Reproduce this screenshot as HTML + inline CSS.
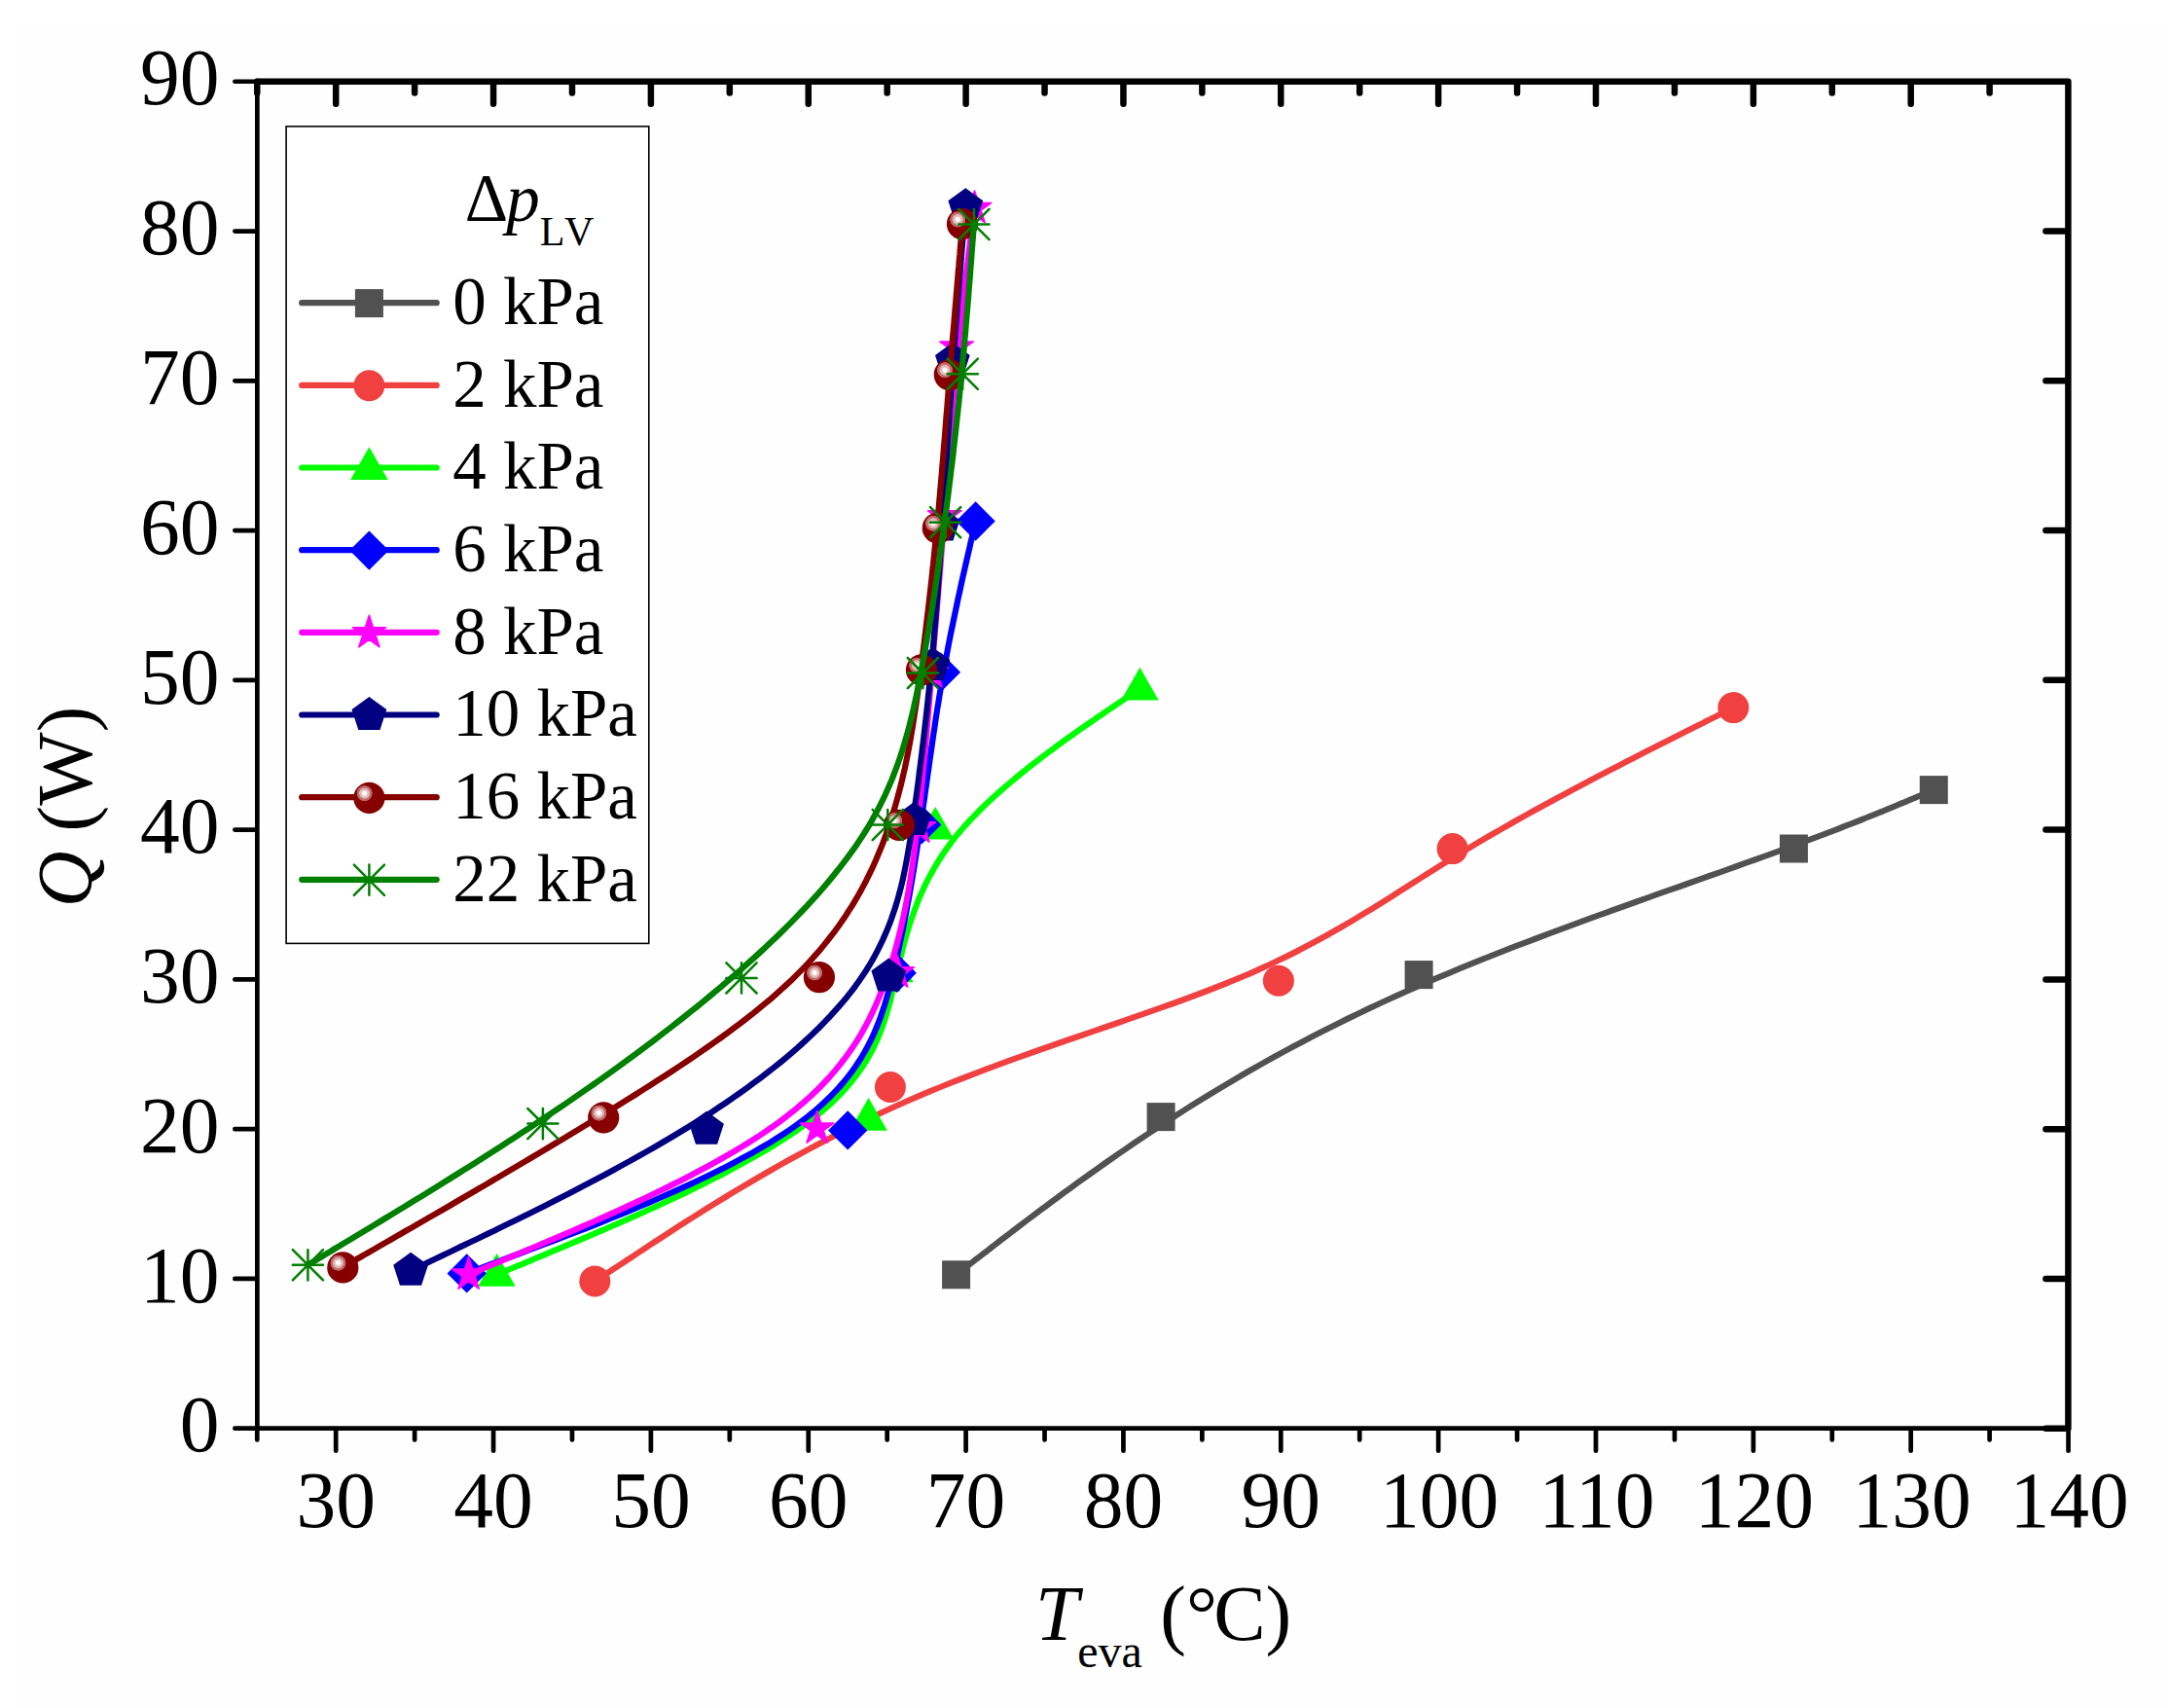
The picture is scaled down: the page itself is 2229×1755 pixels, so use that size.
<!DOCTYPE html>
<html lang="en"><head><meta charset="utf-8"><title>Q vs T_eva</title>
<style>html,body{margin:0;padding:0;background:#fff}svg{display:block}text{font-family:'Liberation Serif', 'DejaVu Serif', serif;fill:#000}</style></head><body>
<svg width="2229" height="1755" viewBox="0 0 2229 1755">
<defs><radialGradient id="hl" cx="0.5" cy="0.5" r="0.5"><stop offset="0" stop-color="#fff"/><stop offset="0.27" stop-color="#fff"/><stop offset="0.33" stop-color="#ecc9c9"/><stop offset="0.62" stop-color="#deaeae"/><stop offset="0.69" stop-color="#c07272"/><stop offset="0.94" stop-color="#b86262"/><stop offset="1" stop-color="#860000"/></radialGradient></defs>
<rect width="2229" height="1755" fill="#fff"/>
<rect x="16" y="24" width="2213" height="1731" fill="#fefefe"/>
<g id="series">
<path d="M982.6 1309.8 L982.6 1309.8 L982.6 1309.8 L982.6 1309.8 L982.6 1309.7 L982.7 1309.7 L982.8 1309.6 L983.0 1309.4 L983.2 1309.3 L983.5 1309.0 L983.9 1308.8 L984.3 1308.4 L984.8 1308.0 L985.4 1307.6 L986.1 1307.0 L987.0 1306.4 L987.9 1305.7 L989.0 1304.9 L990.1 1303.9 L991.5 1302.9 L993.0 1301.8 L994.6 1300.5 L996.4 1299.1 L998.4 1297.6 L1000.5 1295.9 L1002.9 1294.1 L1005.4 1292.2 L1008.1 1290.1 L1011.1 1287.8 L1014.3 1285.4 L1017.7 1282.7 L1021.3 1279.9 L1025.1 1277.0 L1029.2 1273.8 L1033.5 1270.6 L1038.0 1267.1 L1042.7 1263.5 L1047.6 1259.8 L1052.7 1255.9 L1058.0 1251.9 L1063.5 1247.8 L1069.1 1243.6 L1075.0 1239.2 L1080.9 1234.8 L1087.1 1230.2 L1093.4 1225.6 L1099.8 1220.9 L1106.4 1216.1 L1113.1 1211.3 L1120.0 1206.4 L1126.9 1201.4 L1134.0 1196.4 L1141.2 1191.4 L1148.5 1186.3 L1155.9 1181.2 L1163.4 1176.0 L1171.0 1170.9 L1178.7 1165.7 L1186.5 1160.6 L1194.3 1155.4 L1202.2 1150.3 L1210.2 1145.1 L1218.2 1140.0 L1226.3 1134.9 L1234.4 1129.9 L1242.6 1124.8 L1250.9 1119.8 L1259.3 1114.8 L1267.7 1109.8 L1276.3 1104.8 L1284.9 1099.8 L1293.6 1094.9 L1302.4 1089.9 L1311.2 1085.0 L1320.2 1080.1 L1329.2 1075.3 L1338.4 1070.4 L1347.7 1065.6 L1357.0 1060.8 L1366.5 1056.0 L1376.0 1051.2 L1385.7 1046.4 L1395.5 1041.7 L1405.4 1036.9 L1415.4 1032.2 L1425.6 1027.5 L1435.8 1022.9 L1446.2 1018.2 L1456.7 1013.6 L1467.4 1008.9 L1478.1 1004.3 L1489.1 999.8 L1500.1 995.2 L1511.2 990.7 L1522.4 986.1 L1533.7 981.6 L1545.1 977.2 L1556.5 972.7 L1568.0 968.3 L1579.5 964.0 L1591.0 959.6 L1602.5 955.4 L1614.0 951.1 L1625.4 946.9 L1636.9 942.7 L1648.2 938.6 L1659.5 934.5 L1670.8 930.5 L1681.9 926.5 L1692.9 922.6 L1703.8 918.7 L1714.6 914.9 L1725.2 911.2 L1735.6 907.5 L1745.9 903.8 L1756.0 900.3 L1765.9 896.8 L1775.6 893.4 L1785.0 890.0 L1794.2 886.7 L1803.2 883.5 L1811.9 880.4 L1820.3 877.3 L1828.5 874.4 L1836.4 871.5 L1844.0 868.6 L1851.4 865.9 L1858.6 863.2 L1865.5 860.6 L1872.2 858.1 L1878.6 855.6 L1884.8 853.3 L1890.8 851.0 L1896.5 848.7 L1902.0 846.6 L1907.4 844.5 L1912.5 842.5 L1917.3 840.5 L1922.0 838.6 L1926.5 836.8 L1930.8 835.1 L1934.9 833.5 L1938.7 831.9 L1942.4 830.3 L1946.0 828.9 L1949.3 827.5 L1952.4 826.2 L1955.4 825.0 L1958.2 823.8 L1960.9 822.7 L1963.3 821.6 L1965.7 820.7 L1967.8 819.8 L1969.8 818.9 L1971.7 818.1 L1973.5 817.4 L1975.1 816.7 L1976.5 816.1 L1977.9 815.5 L1979.1 815.0 L1980.2 814.5 L1981.2 814.1 L1982.2 813.7 L1983.0 813.4 L1983.7 813.1 L1984.3 812.8 L1984.9 812.6 L1985.4 812.4 L1985.8 812.2 L1986.1 812.1 L1986.4 811.9 L1986.7 811.8 L1986.9 811.8 L1987.0 811.7 L1987.1 811.6 L1987.2 811.6 L1987.3 811.6 L1987.3 811.6 L1987.3 811.6 L1987.3 811.6 L1987.3 811.6" fill="none" stroke="#515151" stroke-width="6.2" stroke-linecap="round" stroke-linejoin="round"/>
<rect x="968.1" y="1295.3" width="29.0" height="29.0" fill="#515151"/>
<rect x="1178.6" y="1133.1" width="29.0" height="29.0" fill="#515151"/>
<rect x="1443.6" y="987.1" width="29.0" height="29.0" fill="#515151"/>
<rect x="1828.9" y="857.5" width="29.0" height="29.0" fill="#515151"/>
<rect x="1972.8" y="797.1" width="29.0" height="29.0" fill="#515151"/>
<path d="M611.3 1316.5 L611.3 1316.5 L611.3 1316.5 L611.3 1316.5 L611.4 1316.5 L611.5 1316.4 L611.7 1316.3 L611.9 1316.1 L612.2 1315.9 L612.6 1315.6 L613.2 1315.3 L613.8 1314.9 L614.5 1314.4 L615.4 1313.8 L616.4 1313.2 L617.6 1312.4 L619.0 1311.5 L620.5 1310.5 L622.2 1309.4 L624.1 1308.1 L626.3 1306.7 L628.6 1305.1 L631.2 1303.4 L634.1 1301.6 L637.2 1299.5 L640.6 1297.3 L644.2 1294.9 L648.2 1292.3 L652.4 1289.5 L657.0 1286.5 L661.9 1283.3 L667.1 1279.8 L672.7 1276.2 L678.6 1272.3 L684.7 1268.3 L691.2 1264.1 L698.0 1259.7 L705.1 1255.2 L712.5 1250.5 L720.2 1245.7 L728.1 1240.7 L736.3 1235.7 L744.7 1230.5 L753.4 1225.2 L762.3 1219.9 L771.4 1214.5 L780.8 1209.0 L790.3 1203.5 L800.1 1197.9 L810.1 1192.3 L820.3 1186.7 L830.6 1181.1 L841.2 1175.5 L851.9 1169.9 L862.7 1164.3 L873.7 1158.8 L884.9 1153.3 L896.2 1147.9 L907.6 1142.5 L919.1 1137.2 L930.8 1132.0 L942.6 1126.9 L954.4 1121.9 L966.4 1117.0 L978.4 1112.2 L990.4 1107.5 L1002.5 1102.8 L1014.7 1098.2 L1026.9 1093.7 L1039.1 1089.2 L1051.2 1084.9 L1063.4 1080.5 L1075.6 1076.3 L1087.7 1072.0 L1099.8 1067.8 L1111.8 1063.7 L1123.7 1059.6 L1135.6 1055.5 L1147.4 1051.5 L1159.0 1047.4 L1170.6 1043.4 L1182.0 1039.4 L1193.3 1035.4 L1204.4 1031.5 L1215.4 1027.5 L1226.2 1023.5 L1236.8 1019.5 L1247.2 1015.5 L1257.4 1011.5 L1267.4 1007.4 L1277.2 1003.4 L1286.7 999.3 L1295.9 995.1 L1305.0 991.0 L1313.8 986.8 L1322.5 982.6 L1331.0 978.4 L1339.3 974.1 L1347.4 969.8 L1355.4 965.5 L1363.2 961.2 L1371.0 956.8 L1378.6 952.5 L1386.1 948.1 L1393.6 943.7 L1400.9 939.2 L1408.2 934.8 L1415.5 930.3 L1422.7 925.8 L1429.9 921.3 L1437.1 916.7 L1444.3 912.2 L1451.4 907.6 L1458.7 903.0 L1465.9 898.4 L1473.2 893.8 L1480.6 889.2 L1488.0 884.6 L1495.5 879.9 L1503.2 875.3 L1510.9 870.6 L1518.7 865.9 L1526.7 861.2 L1534.8 856.5 L1542.9 851.9 L1551.1 847.2 L1559.3 842.5 L1567.6 837.9 L1575.9 833.3 L1584.2 828.8 L1592.5 824.2 L1600.7 819.8 L1608.9 815.4 L1617.1 811.0 L1625.2 806.7 L1633.2 802.5 L1641.1 798.3 L1648.9 794.2 L1656.6 790.3 L1664.1 786.4 L1671.5 782.6 L1678.7 778.9 L1685.7 775.3 L1692.5 771.8 L1699.1 768.5 L1705.4 765.3 L1711.5 762.2 L1717.4 759.3 L1722.9 756.5 L1728.2 753.8 L1733.2 751.3 L1737.8 749.0 L1742.2 746.8 L1746.2 744.8 L1750.0 742.9 L1753.4 741.1 L1756.7 739.5 L1759.6 738.0 L1762.3 736.7 L1764.8 735.4 L1767.0 734.3 L1769.1 733.3 L1770.9 732.4 L1772.5 731.5 L1774.0 730.8 L1775.3 730.2 L1776.4 729.6 L1777.4 729.1 L1778.2 728.7 L1778.9 728.3 L1779.5 728.0 L1780.0 727.8 L1780.4 727.6 L1780.7 727.5 L1780.9 727.3 L1781.1 727.3 L1781.2 727.2 L1781.2 727.2 L1781.3 727.2 L1781.3 727.1 L1781.3 727.1" fill="none" stroke="#F14040" stroke-width="6.2" stroke-linecap="round" stroke-linejoin="round"/>
<circle cx="611.3" cy="1316.5" r="16.0" fill="#F14040"/>
<circle cx="914.9" cy="1117.0" r="16.0" fill="#F14040"/>
<circle cx="1313.9" cy="1007.8" r="16.0" fill="#F14040"/>
<circle cx="1492.6" cy="872.1" r="16.0" fill="#F14040"/>
<circle cx="1781.3" cy="727.1" r="16.0" fill="#F14040"/>
<path d="M510.4 1309.8 L510.5 1309.8 L510.5 1309.8 L510.5 1309.8 L510.6 1309.7 L510.7 1309.7 L511.0 1309.6 L511.3 1309.4 L511.7 1309.3 L512.2 1309.1 L512.8 1308.8 L513.6 1308.5 L514.5 1308.1 L515.6 1307.6 L516.9 1307.1 L518.4 1306.4 L520.1 1305.7 L522.0 1304.9 L524.2 1304.0 L526.6 1303.0 L529.3 1301.9 L532.3 1300.6 L535.6 1299.3 L539.1 1297.8 L543.1 1296.1 L547.3 1294.3 L551.9 1292.4 L556.9 1290.3 L562.2 1288.1 L568.0 1285.7 L574.1 1283.1 L580.7 1280.3 L587.7 1277.4 L595.0 1274.3 L602.7 1271.1 L610.7 1267.7 L619.0 1264.1 L627.6 1260.4 L636.3 1256.6 L645.3 1252.6 L654.5 1248.6 L663.8 1244.4 L673.3 1240.1 L682.8 1235.7 L692.4 1231.2 L702.1 1226.6 L711.7 1221.9 L721.4 1217.1 L731.0 1212.3 L740.6 1207.4 L750.0 1202.5 L759.3 1197.4 L768.5 1192.4 L777.5 1187.3 L786.3 1182.2 L794.9 1177.0 L803.2 1171.8 L811.3 1166.6 L819.0 1161.4 L826.4 1156.2 L833.4 1151.0 L840.0 1145.8 L846.2 1140.6 L852.1 1135.4 L857.6 1130.2 L862.8 1125.1 L867.7 1119.9 L872.2 1114.7 L876.4 1109.6 L880.4 1104.5 L884.1 1099.3 L887.5 1094.2 L890.7 1089.1 L893.6 1084.0 L896.4 1078.9 L898.9 1073.8 L901.3 1068.7 L903.4 1063.6 L905.4 1058.6 L907.3 1053.5 L909.0 1048.4 L910.6 1043.4 L912.1 1038.4 L913.5 1033.3 L914.9 1028.3 L916.1 1023.3 L917.3 1018.3 L918.5 1013.2 L919.7 1008.2 L920.8 1003.3 L921.9 998.3 L923.1 993.3 L924.3 988.3 L925.5 983.3 L926.7 978.4 L928.0 973.4 L929.3 968.5 L930.7 963.5 L932.1 958.6 L933.6 953.6 L935.1 948.7 L936.8 943.8 L938.5 938.9 L940.3 934.0 L942.2 929.1 L944.1 924.2 L946.2 919.3 L948.4 914.4 L950.7 909.5 L953.1 904.6 L955.7 899.7 L958.4 894.9 L961.2 890.0 L964.1 885.1 L967.2 880.3 L970.5 875.4 L973.9 870.6 L977.5 865.7 L981.2 860.9 L985.2 856.0 L989.3 851.2 L993.6 846.4 L998.0 841.6 L1002.7 836.8 L1007.4 832.0 L1012.3 827.2 L1017.3 822.5 L1022.5 817.8 L1027.7 813.1 L1033.0 808.5 L1038.3 804.0 L1043.7 799.5 L1049.1 795.0 L1054.6 790.6 L1060.0 786.3 L1065.5 782.1 L1070.9 777.9 L1076.2 773.9 L1081.6 769.9 L1086.8 766.0 L1092.0 762.3 L1097.1 758.6 L1102.1 755.1 L1107.0 751.6 L1111.7 748.3 L1116.3 745.1 L1120.7 742.1 L1124.9 739.2 L1128.9 736.4 L1132.8 733.8 L1136.4 731.3 L1139.8 729.0 L1143.0 726.9 L1145.9 724.9 L1148.6 723.0 L1151.2 721.3 L1153.5 719.7 L1155.7 718.2 L1157.6 716.9 L1159.4 715.6 L1161.1 714.5 L1162.5 713.5 L1163.9 712.6 L1165.1 711.8 L1166.1 711.1 L1167.1 710.4 L1167.9 709.9 L1168.6 709.4 L1169.2 709.0 L1169.7 708.6 L1170.1 708.3 L1170.5 708.1 L1170.8 707.9 L1171.0 707.8 L1171.2 707.7 L1171.3 707.6 L1171.4 707.5 L1171.4 707.5 L1171.4 707.5 L1171.4 707.5 L1171.4 707.5" fill="none" stroke="#00FF00" stroke-width="6.2" stroke-linecap="round" stroke-linejoin="round"/>
<polygon points="510.4,1288.1 529.7,1321.8 491.1,1321.8" fill="#00FF00"/>
<polygon points="892.6,1128.0 911.9,1161.7 873.3,1161.7" fill="#00FF00"/>
<polygon points="919.4,975.6 938.7,1009.3 900.1,1009.3" fill="#00FF00"/>
<polygon points="961.2,828.9 980.5,862.6 941.9,862.6" fill="#00FF00"/>
<polygon points="1171.4,685.8 1190.7,719.5 1152.1,719.5" fill="#00FF00"/>
<path d="M479.7 1308.4 L479.7 1308.4 L479.7 1308.4 L479.8 1308.4 L479.9 1308.3 L480.0 1308.3 L480.2 1308.2 L480.5 1308.1 L480.9 1307.9 L481.5 1307.7 L482.1 1307.5 L482.9 1307.2 L483.9 1306.8 L485.0 1306.4 L486.3 1305.9 L487.9 1305.3 L489.6 1304.7 L491.6 1303.9 L493.8 1303.1 L496.3 1302.2 L499.0 1301.1 L502.1 1300.0 L505.4 1298.7 L509.1 1297.4 L513.1 1295.8 L517.5 1294.2 L522.2 1292.4 L527.3 1290.5 L532.8 1288.5 L538.6 1286.3 L544.9 1283.9 L551.7 1281.4 L558.8 1278.7 L566.4 1275.8 L574.2 1272.8 L582.4 1269.7 L591.0 1266.4 L599.7 1263.0 L608.8 1259.5 L618.0 1255.8 L627.4 1252.0 L637.0 1248.1 L646.8 1244.1 L656.6 1240.0 L666.5 1235.8 L676.5 1231.5 L686.5 1227.1 L696.5 1222.7 L706.5 1218.1 L716.4 1213.5 L726.3 1208.8 L736.0 1204.0 L745.6 1199.2 L755.1 1194.3 L764.3 1189.3 L773.4 1184.4 L782.2 1179.3 L790.7 1174.3 L798.9 1169.2 L806.8 1164.1 L814.4 1159.0 L821.6 1153.8 L828.4 1148.6 L834.8 1143.5 L840.9 1138.3 L846.7 1133.1 L852.2 1127.8 L857.3 1122.6 L862.2 1117.4 L866.8 1112.1 L871.0 1106.9 L875.1 1101.6 L878.9 1096.3 L882.4 1091.0 L885.7 1085.8 L888.8 1080.5 L891.7 1075.2 L894.4 1069.9 L897.0 1064.6 L899.3 1059.3 L901.5 1054.0 L903.6 1048.7 L905.5 1043.4 L907.3 1038.1 L909.0 1032.9 L910.6 1027.6 L912.1 1022.3 L913.6 1017.1 L914.9 1011.8 L916.2 1006.6 L917.5 1001.3 L918.8 996.1 L920.0 990.9 L921.2 985.7 L922.4 980.5 L923.5 975.3 L924.6 970.1 L925.7 964.9 L926.8 959.7 L927.9 954.6 L928.9 949.4 L929.9 944.3 L930.9 939.1 L931.9 934.0 L932.8 928.8 L933.8 923.7 L934.7 918.6 L935.6 913.4 L936.5 908.3 L937.4 903.2 L938.2 898.0 L939.1 892.9 L939.9 887.8 L940.7 882.6 L941.5 877.5 L942.3 872.4 L943.1 867.2 L943.9 862.1 L944.7 857.0 L945.4 851.8 L946.2 846.7 L946.9 841.5 L947.7 836.4 L948.4 831.2 L949.1 826.0 L949.9 820.9 L950.6 815.7 L951.3 810.5 L952.1 805.3 L952.8 800.1 L953.5 795.0 L954.3 789.8 L955.0 784.6 L955.7 779.4 L956.5 774.2 L957.2 769.0 L958.0 763.8 L958.7 758.6 L959.5 753.4 L960.3 748.2 L961.0 743.0 L961.8 737.8 L962.6 732.6 L963.4 727.4 L964.3 722.2 L965.1 717.0 L966.0 711.8 L966.8 706.6 L967.7 701.4 L968.6 696.2 L969.5 691.0 L970.5 685.8 L971.4 680.6 L972.4 675.4 L973.4 670.2 L974.3 665.1 L975.3 660.0 L976.3 654.9 L977.3 649.9 L978.4 644.9 L979.4 640.0 L980.4 635.2 L981.4 630.3 L982.4 625.6 L983.4 621.0 L984.3 616.4 L985.3 611.9 L986.3 607.5 L987.2 603.2 L988.1 599.0 L989.0 594.9 L989.9 591.0 L990.8 587.1 L991.6 583.4 L992.5 579.8 L993.2 576.4 L994.0 573.1 L994.7 569.9 L995.4 566.9 L996.1 564.1 L996.7 561.4 L997.2 558.9 L997.8 556.6 L998.3 554.4 L998.8 552.4 L999.2 550.5 L999.6 548.8 L999.9 547.2 L1000.3 545.7 L1000.6 544.4 L1000.9 543.2 L1001.1 542.1 L1001.3 541.1 L1001.5 540.3 L1001.7 539.5 L1001.9 538.8 L1002.0 538.2 L1002.1 537.7 L1002.3 537.2 L1002.3 536.8 L1002.4 536.5 L1002.5 536.2 L1002.5 536.0 L1002.6 535.9 L1002.6 535.8 L1002.6 535.7 L1002.6 535.6 L1002.6 535.6 L1002.6 535.6 L1002.6 535.5 L1002.6 535.5" fill="none" stroke="#0000FF" stroke-width="6.2" stroke-linecap="round" stroke-linejoin="round"/>
<polygon points="479.7,1288.2 499.9,1308.4 479.7,1328.6 459.5,1308.4" fill="#0000FF"/>
<polygon points="871.2,1141.2 891.4,1161.4 871.2,1181.6 851.0,1161.4" fill="#0000FF"/>
<polygon points="921.7,979.6 941.9,999.8 921.7,1020.0 901.5,999.8" fill="#0000FF"/>
<polygon points="947.1,827.2 967.3,847.4 947.1,867.6 926.9,847.4" fill="#0000FF"/>
<polygon points="966.9,670.5 987.1,690.7 966.9,710.9 946.7,690.7" fill="#0000FF"/>
<polygon points="1002.6,515.3 1022.8,535.5 1002.6,555.7 982.4,535.5" fill="#0000FF"/>
<path d="M481.6 1309.6 L481.6 1309.6 L481.7 1309.6 L481.7 1309.6 L481.8 1309.6 L481.9 1309.5 L482.1 1309.4 L482.4 1309.3 L482.8 1309.2 L483.3 1308.9 L483.8 1308.7 L484.6 1308.4 L485.5 1308.0 L486.5 1307.6 L487.7 1307.1 L489.1 1306.5 L490.7 1305.8 L492.5 1305.1 L494.5 1304.2 L496.8 1303.3 L499.3 1302.2 L502.1 1301.0 L505.2 1299.8 L508.5 1298.4 L512.2 1296.8 L516.2 1295.1 L520.5 1293.3 L525.1 1291.4 L530.2 1289.3 L535.5 1287.0 L541.3 1284.6 L547.5 1282.0 L554.0 1279.3 L560.9 1276.4 L568.1 1273.3 L575.6 1270.1 L583.4 1266.8 L591.5 1263.3 L599.8 1259.7 L608.3 1256.0 L617.0 1252.1 L625.8 1248.2 L634.8 1244.1 L643.9 1239.9 L653.1 1235.6 L662.4 1231.2 L671.7 1226.8 L681.0 1222.2 L690.3 1217.6 L699.7 1212.9 L708.9 1208.2 L718.1 1203.3 L727.2 1198.4 L736.2 1193.5 L745.0 1188.5 L753.7 1183.5 L762.2 1178.4 L770.4 1173.3 L778.5 1168.2 L786.2 1163.0 L793.7 1157.9 L800.9 1152.7 L807.8 1147.5 L814.4 1142.3 L820.7 1137.1 L826.8 1131.9 L832.6 1126.7 L838.1 1121.5 L843.4 1116.2 L848.4 1111.0 L853.2 1105.8 L857.8 1100.5 L862.1 1095.3 L866.2 1090.0 L870.2 1084.8 L873.9 1079.5 L877.5 1074.3 L880.9 1069.0 L884.1 1063.8 L887.1 1058.6 L890.0 1053.3 L892.7 1048.1 L895.3 1042.9 L897.8 1037.6 L900.2 1032.4 L902.4 1027.2 L904.5 1022.0 L906.6 1016.8 L908.5 1011.6 L910.4 1006.5 L912.1 1001.3 L913.8 996.2 L915.5 991.0 L917.1 985.9 L918.6 980.8 L920.1 975.7 L921.5 970.6 L922.8 965.5 L924.1 960.4 L925.4 955.4 L926.5 950.3 L927.7 945.2 L928.8 940.2 L929.8 935.1 L930.9 930.0 L931.8 925.0 L932.8 919.9 L933.7 914.9 L934.5 909.8 L935.4 904.8 L936.1 899.7 L936.9 894.6 L937.7 889.6 L938.4 884.5 L939.1 879.4 L939.7 874.3 L940.4 869.2 L941.0 864.1 L941.6 859.0 L942.2 853.9 L942.8 848.8 L943.4 843.6 L944.0 838.5 L944.5 833.3 L945.1 828.1 L945.6 822.9 L946.2 817.7 L946.7 812.5 L947.2 807.3 L947.7 802.1 L948.2 796.8 L948.7 791.6 L949.2 786.4 L949.7 781.1 L950.2 775.8 L950.7 770.6 L951.1 765.3 L951.6 760.0 L952.1 754.7 L952.5 749.4 L953.0 744.1 L953.4 738.8 L953.9 733.5 L954.3 728.2 L954.8 722.9 L955.2 717.6 L955.6 712.2 L956.1 706.9 L956.5 701.6 L957.0 696.3 L957.4 690.9 L957.8 685.6 L958.3 680.3 L958.7 674.9 L959.2 669.6 L959.6 664.2 L960.0 658.9 L960.5 653.5 L960.9 648.2 L961.4 642.8 L961.8 637.4 L962.3 632.1 L962.7 626.7 L963.1 621.3 L963.6 615.9 L964.0 610.5 L964.5 605.1 L964.9 599.7 L965.3 594.3 L965.8 588.8 L966.2 583.4 L966.7 577.9 L967.1 572.4 L967.5 567.0 L968.0 561.5 L968.4 556.0 L968.8 550.5 L969.3 544.9 L969.7 539.4 L970.1 533.8 L970.6 528.3 L971.0 522.7 L971.4 517.1 L971.8 511.5 L972.3 505.9 L972.7 500.2 L973.1 494.6 L973.5 489.0 L974.0 483.3 L974.4 477.7 L974.8 472.0 L975.3 466.4 L975.7 460.8 L976.1 455.1 L976.6 449.5 L977.0 443.9 L977.4 438.3 L977.9 432.7 L978.3 427.1 L978.8 421.5 L979.2 416.0 L979.7 410.5 L980.2 405.0 L980.6 399.5 L981.1 394.0 L981.6 388.6 L982.1 383.1 L982.6 377.8 L983.1 372.4 L983.6 367.1 L984.1 361.8 L984.6 356.5 L985.1 351.3 L985.6 346.1 L986.2 341.0 L986.7 335.9 L987.2 330.9 L987.8 326.0 L988.3 321.1 L988.9 316.2 L989.4 311.5 L989.9 306.8 L990.5 302.2 L991.0 297.7 L991.5 293.2 L992.0 288.9 L992.5 284.7 L993.0 280.5 L993.5 276.5 L994.0 272.6 L994.5 268.8 L994.9 265.1 L995.4 261.5 L995.8 258.0 L996.2 254.7 L996.7 251.5 L997.0 248.5 L997.4 245.6 L997.8 242.8 L998.1 240.2 L998.4 237.8 L998.7 235.5 L999.0 233.3 L999.3 231.3 L999.5 229.5 L999.7 227.8 L999.9 226.2 L1000.1 224.7 L1000.3 223.4 L1000.4 222.2 L1000.6 221.1 L1000.7 220.0 L1000.8 219.1 L1000.9 218.3 L1001.0 217.6 L1001.1 217.0 L1001.2 216.4 L1001.3 215.9 L1001.3 215.5 L1001.4 215.2 L1001.4 214.9 L1001.4 214.7 L1001.4 214.5 L1001.5 214.3 L1001.5 214.2 L1001.5 214.1 L1001.5 214.1 L1001.5 214.0 L1001.5 214.0 L1001.5 214.0 L1001.5 214.0" fill="none" stroke="#FF00FF" stroke-width="6.2" stroke-linecap="round" stroke-linejoin="round"/>
<polygon points="481.6,1291.6 485.7,1304.1 498.8,1304.1 488.2,1311.7 492.2,1324.2 481.6,1316.5 471.1,1324.2 475.1,1311.7 464.5,1304.1 477.6,1304.1" fill="#FF00FF" stroke="#FF00FF" stroke-width="1.6" stroke-linejoin="round"/>
<polygon points="839.7,1141.5 843.7,1154.0 856.8,1154.0 846.2,1161.7 850.2,1174.1 839.7,1166.4 829.1,1174.1 833.1,1161.7 822.5,1154.0 835.6,1154.0" fill="#FF00FF" stroke="#FF00FF" stroke-width="1.6" stroke-linejoin="round"/>
<polygon points="922.2,981.5 926.2,993.9 939.3,993.9 928.7,1001.6 932.8,1014.0 922.2,1006.3 911.6,1014.0 915.7,1001.6 905.1,993.9 918.2,993.9" fill="#FF00FF" stroke="#FF00FF" stroke-width="1.6" stroke-linejoin="round"/>
<polygon points="944.4,832.5 948.4,844.9 961.5,844.9 950.9,852.6 954.9,865.0 944.4,857.3 933.8,865.0 937.8,852.6 927.2,844.9 940.3,844.9" fill="#FF00FF" stroke="#FF00FF" stroke-width="1.6" stroke-linejoin="round"/>
<polygon points="957.3,673.2 961.4,685.6 974.4,685.6 963.9,693.3 967.9,705.7 957.3,698.0 946.7,705.7 950.8,693.3 940.2,685.6 953.3,685.6" fill="#FF00FF" stroke="#FF00FF" stroke-width="1.6" stroke-linejoin="round"/>
<polygon points="970.8,512.5 974.8,524.9 987.9,524.9 977.3,532.6 981.3,545.0 970.8,537.3 960.2,545.0 964.2,532.6 953.6,524.9 966.7,524.9" fill="#FF00FF" stroke="#FF00FF" stroke-width="1.6" stroke-linejoin="round"/>
<polygon points="983.1,338.6 987.1,351.0 1000.2,351.0 989.6,358.7 993.6,371.1 983.1,363.4 972.5,371.1 976.5,358.7 965.9,351.0 979.0,351.0" fill="#FF00FF" stroke="#FF00FF" stroke-width="1.6" stroke-linejoin="round"/>
<polygon points="1001.5,196.0 1005.5,208.5 1018.6,208.5 1008.0,216.1 1012.1,228.6 1001.5,220.9 990.9,228.6 995.0,216.1 984.4,208.5 997.5,208.5" fill="#FF00FF" stroke="#FF00FF" stroke-width="1.6" stroke-linejoin="round"/>
<path d="M422.1 1305.6 L422.1 1305.6 L422.1 1305.6 L422.1 1305.6 L422.2 1305.6 L422.3 1305.5 L422.5 1305.4 L422.7 1305.3 L423.0 1305.2 L423.4 1305.0 L424.0 1304.7 L424.6 1304.4 L425.3 1304.1 L426.2 1303.7 L427.2 1303.2 L428.4 1302.6 L429.8 1302.0 L431.3 1301.2 L433.0 1300.4 L434.9 1299.5 L437.1 1298.5 L439.5 1297.3 L442.1 1296.1 L444.9 1294.7 L448.0 1293.2 L451.4 1291.6 L455.1 1289.9 L459.0 1288.0 L463.3 1286.0 L467.8 1283.8 L472.7 1281.4 L478.0 1278.9 L483.5 1276.3 L489.4 1273.5 L495.5 1270.5 L502.0 1267.4 L508.7 1264.2 L515.6 1260.8 L522.7 1257.3 L530.1 1253.7 L537.7 1250.0 L545.4 1246.2 L553.4 1242.2 L561.4 1238.2 L569.6 1234.0 L578.0 1229.8 L586.4 1225.4 L594.9 1221.0 L603.5 1216.6 L612.1 1212.0 L620.8 1207.4 L629.5 1202.7 L638.3 1197.9 L647.0 1193.1 L655.7 1188.3 L664.4 1183.4 L673.0 1178.5 L681.5 1173.5 L690.0 1168.5 L698.3 1163.5 L706.6 1158.5 L714.7 1153.4 L722.7 1148.4 L730.6 1143.3 L738.3 1138.2 L745.9 1133.1 L753.3 1128.0 L760.6 1122.9 L767.8 1117.8 L774.8 1112.6 L781.7 1107.5 L788.4 1102.3 L795.0 1097.1 L801.5 1092.0 L807.7 1086.8 L813.9 1081.6 L819.9 1076.4 L825.7 1071.1 L831.3 1065.9 L836.8 1060.7 L842.2 1055.5 L847.4 1050.2 L852.4 1045.0 L857.2 1039.7 L861.9 1034.4 L866.4 1029.2 L870.8 1023.9 L875.0 1018.6 L879.0 1013.3 L882.8 1008.0 L886.4 1002.8 L889.9 997.5 L893.2 992.2 L896.3 986.9 L899.3 981.5 L902.1 976.2 L904.7 970.9 L907.3 965.6 L909.6 960.3 L911.9 955.0 L914.0 949.6 L916.0 944.3 L917.8 939.0 L919.6 933.7 L921.3 928.3 L922.8 923.0 L924.3 917.7 L925.7 912.3 L927.0 907.0 L928.2 901.7 L929.3 896.4 L930.4 891.0 L931.4 885.7 L932.4 880.4 L933.3 875.0 L934.2 869.7 L935.1 864.4 L935.9 859.0 L936.7 853.7 L937.4 848.4 L938.2 843.1 L938.9 837.7 L939.7 832.4 L940.4 827.1 L941.1 821.8 L941.9 816.5 L942.6 811.2 L943.3 805.9 L944.0 800.6 L944.6 795.3 L945.3 790.0 L946.0 784.7 L946.6 779.5 L947.3 774.2 L947.9 768.9 L948.6 763.7 L949.2 758.5 L949.8 753.2 L950.4 748.0 L951.0 742.8 L951.6 737.6 L952.2 732.5 L952.7 727.3 L953.3 722.1 L953.8 717.0 L954.4 711.9 L954.9 706.7 L955.4 701.6 L955.9 696.6 L956.4 691.5 L956.9 686.4 L957.4 681.4 L957.9 676.4 L958.4 671.4 L958.8 666.4 L959.2 661.4 L959.7 656.4 L960.1 651.5 L960.5 646.5 L960.9 641.5 L961.3 636.6 L961.7 631.6 L962.1 626.7 L962.5 621.7 L962.9 616.8 L963.3 611.8 L963.7 606.9 L964.0 601.9 L964.4 596.9 L964.7 591.9 L965.1 586.9 L965.5 581.9 L965.8 576.9 L966.1 571.8 L966.5 566.8 L966.8 561.7 L967.2 556.6 L967.5 551.4 L967.9 546.3 L968.2 541.1 L968.5 535.9 L968.9 530.7 L969.2 525.4 L969.6 520.1 L969.9 514.8 L970.2 509.5 L970.6 504.1 L970.9 498.8 L971.3 493.4 L971.6 488.0 L972.0 482.5 L972.3 477.1 L972.7 471.6 L973.0 466.2 L973.4 460.7 L973.7 455.2 L974.1 449.7 L974.5 444.2 L974.8 438.7 L975.2 433.2 L975.5 427.7 L975.9 422.1 L976.3 416.6 L976.7 411.1 L977.0 405.6 L977.4 400.1 L977.8 394.6 L978.2 389.1 L978.6 383.6 L979.0 378.1 L979.4 372.6 L979.8 367.1 L980.2 361.7 L980.6 356.3 L981.0 350.9 L981.4 345.5 L981.8 340.2 L982.2 334.9 L982.6 329.7 L983.0 324.5 L983.4 319.4 L983.8 314.4 L984.2 309.4 L984.6 304.5 L985.0 299.7 L985.3 295.0 L985.7 290.3 L986.1 285.8 L986.5 281.4 L986.8 277.1 L987.2 272.9 L987.5 268.8 L987.8 264.8 L988.1 261.0 L988.4 257.4 L988.7 253.8 L989.0 250.4 L989.3 247.2 L989.6 244.1 L989.8 241.2 L990.0 238.5 L990.3 235.9 L990.5 233.5 L990.6 231.3 L990.8 229.2 L991.0 227.3 L991.1 225.6 L991.3 223.9 L991.4 222.5 L991.5 221.1 L991.6 219.9 L991.7 218.7 L991.8 217.7 L991.9 216.8 L991.9 216.0 L992.0 215.3 L992.0 214.7 L992.1 214.2 L992.1 213.7 L992.2 213.3 L992.2 213.0 L992.2 212.7 L992.2 212.5 L992.2 212.4 L992.3 212.2 L992.3 212.1 L992.3 212.1 L992.3 212.0 L992.3 212.0 L992.3 212.0 L992.3 212.0" fill="none" stroke="#000080" stroke-width="6.2" stroke-linecap="round" stroke-linejoin="round"/>
<polygon points="422.1,1286.8 440.0,1299.8 433.1,1320.8 411.0,1320.8 404.2,1299.8" fill="#000080"/>
<polygon points="726.0,1141.7 743.9,1154.7 737.1,1175.7 715.0,1175.7 708.2,1154.7" fill="#000080"/>
<polygon points="913.3,984.5 931.2,997.5 924.3,1018.5 902.2,1018.5 895.4,997.5" fill="#000080"/>
<polygon points="939.4,824.0 957.2,837.0 950.4,858.0 928.3,858.0 921.5,837.0" fill="#000080"/>
<polygon points="958.4,665.1 976.3,678.1 969.5,699.1 947.4,699.1 940.6,678.1" fill="#000080"/>
<polygon points="968.5,521.4 986.4,534.3 979.5,555.4 957.4,555.4 950.6,534.3" fill="#000080"/>
<polygon points="978.8,352.1 996.7,365.0 989.9,386.1 967.8,386.1 961.0,365.0" fill="#000080"/>
<polygon points="992.3,193.2 1010.2,206.2 1003.3,227.2 981.2,227.2 974.4,206.2" fill="#000080"/>
<path d="M352.3 1302.1 L352.3 1302.1 L352.3 1302.1 L352.4 1302.1 L352.4 1302.0 L352.5 1302.0 L352.7 1301.9 L352.9 1301.8 L353.2 1301.6 L353.5 1301.4 L354.0 1301.1 L354.5 1300.8 L355.2 1300.4 L356.0 1300.0 L356.9 1299.5 L357.9 1298.9 L359.1 1298.2 L360.4 1297.4 L362.0 1296.5 L363.7 1295.6 L365.5 1294.5 L367.6 1293.3 L369.9 1292.0 L372.4 1290.5 L375.2 1288.9 L378.2 1287.2 L381.4 1285.4 L384.9 1283.4 L388.6 1281.2 L392.6 1278.9 L397.0 1276.4 L401.6 1273.8 L406.5 1270.9 L411.6 1268.0 L417.1 1264.8 L422.8 1261.6 L428.7 1258.1 L434.8 1254.6 L441.2 1250.9 L447.8 1247.1 L454.6 1243.2 L461.5 1239.2 L468.6 1235.0 L475.9 1230.8 L483.3 1226.5 L490.9 1222.0 L498.6 1217.6 L506.3 1213.0 L514.2 1208.4 L522.2 1203.7 L530.3 1198.9 L538.4 1194.1 L546.6 1189.3 L554.8 1184.4 L563.0 1179.5 L571.3 1174.5 L579.6 1169.6 L587.8 1164.6 L596.1 1159.6 L604.3 1154.7 L612.5 1149.7 L620.6 1144.7 L628.7 1139.8 L636.7 1134.8 L644.7 1129.9 L652.6 1125.0 L660.4 1120.0 L668.2 1115.1 L675.8 1110.2 L683.4 1105.3 L691.0 1100.4 L698.4 1095.5 L705.7 1090.6 L713.0 1085.7 L720.1 1080.8 L727.2 1075.9 L734.1 1071.0 L741.0 1066.1 L747.7 1061.2 L754.3 1056.3 L760.8 1051.4 L767.2 1046.5 L773.5 1041.6 L779.6 1036.6 L785.6 1031.7 L791.5 1026.8 L797.2 1021.8 L802.8 1016.8 L808.2 1011.9 L813.5 1006.9 L818.6 1001.9 L823.6 996.9 L828.5 991.8 L833.1 986.8 L837.7 981.7 L842.1 976.7 L846.3 971.6 L850.4 966.5 L854.4 961.4 L858.3 956.3 L862.0 951.2 L865.6 946.0 L869.1 940.9 L872.4 935.7 L875.7 930.6 L878.8 925.4 L881.8 920.2 L884.7 915.1 L887.5 909.9 L890.2 904.7 L892.8 899.4 L895.4 894.2 L897.8 889.0 L900.1 883.8 L902.3 878.5 L904.5 873.3 L906.6 868.1 L908.6 862.8 L910.5 857.6 L912.3 852.3 L914.1 847.0 L915.8 841.8 L917.5 836.5 L919.1 831.2 L920.6 826.0 L922.1 820.7 L923.5 815.4 L924.9 810.1 L926.2 804.9 L927.5 799.6 L928.7 794.3 L929.9 789.1 L931.0 783.8 L932.1 778.5 L933.1 773.3 L934.1 768.0 L935.1 762.8 L936.0 757.6 L936.9 752.3 L937.8 747.1 L938.6 741.9 L939.4 736.7 L940.2 731.5 L941.0 726.3 L941.8 721.1 L942.5 716.0 L943.2 710.8 L943.9 705.7 L944.6 700.6 L945.3 695.4 L945.9 690.3 L946.6 685.3 L947.2 680.2 L947.9 675.1 L948.5 670.1 L949.2 665.1 L949.8 660.0 L950.4 655.0 L951.0 650.0 L951.6 645.0 L952.2 640.0 L952.8 635.1 L953.4 630.1 L954.0 625.1 L954.6 620.1 L955.1 615.2 L955.7 610.2 L956.3 605.2 L956.8 600.3 L957.4 595.3 L957.9 590.3 L958.4 585.3 L959.0 580.4 L959.5 575.4 L960.0 570.4 L960.5 565.4 L961.0 560.4 L961.5 555.4 L962.0 550.3 L962.5 545.3 L963.0 540.2 L963.5 535.2 L963.9 530.1 L964.4 525.0 L964.9 519.9 L965.3 514.8 L965.8 509.7 L966.2 504.6 L966.7 499.4 L967.1 494.3 L967.6 489.1 L968.0 484.0 L968.4 478.8 L968.9 473.6 L969.3 468.4 L969.7 463.2 L970.1 458.1 L970.6 452.9 L971.0 447.7 L971.4 442.4 L971.8 437.2 L972.2 432.0 L972.6 426.8 L973.1 421.6 L973.5 416.4 L973.9 411.2 L974.3 406.0 L974.7 400.8 L975.1 395.5 L975.6 390.3 L976.0 385.1 L976.4 379.9 L976.8 374.7 L977.2 369.6 L977.7 364.4 L978.1 359.3 L978.5 354.2 L978.9 349.1 L979.3 344.1 L979.8 339.1 L980.2 334.2 L980.6 329.3 L981.0 324.5 L981.4 319.8 L981.8 315.1 L982.2 310.6 L982.5 306.1 L982.9 301.7 L983.3 297.4 L983.6 293.2 L984.0 289.1 L984.3 285.2 L984.6 281.3 L984.9 277.6 L985.3 274.0 L985.5 270.6 L985.8 267.3 L986.1 264.2 L986.4 261.2 L986.6 258.3 L986.8 255.7 L987.0 253.2 L987.2 250.8 L987.4 248.7 L987.6 246.7 L987.8 244.8 L987.9 243.1 L988.0 241.5 L988.2 240.0 L988.3 238.7 L988.4 237.5 L988.5 236.4 L988.6 235.4 L988.6 234.5 L988.7 233.8 L988.8 233.1 L988.8 232.5 L988.9 232.0 L988.9 231.5 L988.9 231.1 L989.0 230.8 L989.0 230.5 L989.0 230.3 L989.0 230.2 L989.0 230.1 L989.0 230.0 L989.0 229.9 L989.0 229.9 L989.0 229.9 L989.0 229.9 L989.0 229.9" fill="none" stroke="#860000" stroke-width="6.2" stroke-linecap="round" stroke-linejoin="round"/>
<circle cx="352.3" cy="1302.4" r="16.1" fill="#860000"/><circle cx="347.5" cy="1297.7" r="8.3" fill="url(#hl)"/>
<circle cx="620.2" cy="1148.3" r="16.1" fill="#860000"/><circle cx="615.4" cy="1143.6" r="8.3" fill="url(#hl)"/>
<circle cx="841.9" cy="1004.2" r="16.1" fill="#860000"/><circle cx="837.1" cy="999.5" r="8.3" fill="url(#hl)"/>
<circle cx="924.0" cy="847.8" r="16.1" fill="#860000"/><circle cx="919.2" cy="843.1" r="8.3" fill="url(#hl)"/>
<circle cx="947.0" cy="688.4" r="16.1" fill="#860000"/><circle cx="942.2" cy="683.7" r="8.3" fill="url(#hl)"/>
<circle cx="963.8" cy="542.5" r="16.1" fill="#860000"/><circle cx="959.0" cy="537.8" r="8.3" fill="url(#hl)"/>
<circle cx="975.8" cy="385.0" r="16.1" fill="#860000"/><circle cx="971.0" cy="380.3" r="8.3" fill="url(#hl)"/>
<circle cx="989.0" cy="230.2" r="16.1" fill="#860000"/><circle cx="984.2" cy="225.5" r="8.3" fill="url(#hl)"/>
<path d="M316.4 1299.8 L316.4 1299.8 L316.4 1299.8 L316.4 1299.8 L316.5 1299.7 L316.6 1299.7 L316.7 1299.6 L316.9 1299.5 L317.2 1299.3 L317.5 1299.1 L317.9 1298.9 L318.4 1298.6 L319.0 1298.2 L319.7 1297.8 L320.5 1297.3 L321.4 1296.8 L322.5 1296.1 L323.7 1295.4 L325.1 1294.6 L326.6 1293.6 L328.3 1292.6 L330.2 1291.5 L332.3 1290.2 L334.5 1288.9 L337.0 1287.4 L339.7 1285.8 L342.6 1284.0 L345.7 1282.1 L349.1 1280.1 L352.7 1277.9 L356.6 1275.6 L360.8 1273.1 L365.2 1270.4 L369.9 1267.6 L374.8 1264.7 L379.9 1261.6 L385.2 1258.4 L390.8 1255.0 L396.5 1251.5 L402.5 1247.9 L408.6 1244.2 L414.9 1240.4 L421.3 1236.4 L427.8 1232.4 L434.6 1228.3 L441.4 1224.1 L448.3 1219.8 L455.4 1215.4 L462.5 1211.0 L469.7 1206.5 L477.0 1201.9 L484.4 1197.3 L491.8 1192.6 L499.2 1187.8 L506.7 1183.1 L514.2 1178.3 L521.7 1173.4 L529.2 1168.6 L536.7 1163.7 L544.2 1158.8 L551.6 1153.9 L559.0 1148.9 L566.4 1144.0 L573.7 1139.1 L581.0 1134.2 L588.2 1129.2 L595.4 1124.3 L602.6 1119.3 L609.7 1114.4 L616.7 1109.4 L623.7 1104.4 L630.7 1099.5 L637.6 1094.5 L644.4 1089.5 L651.3 1084.5 L658.0 1079.5 L664.7 1074.5 L671.4 1069.5 L678.0 1064.4 L684.5 1059.4 L691.0 1054.4 L697.5 1049.3 L703.9 1044.3 L710.2 1039.2 L716.5 1034.2 L722.7 1029.1 L728.9 1024.0 L735.0 1018.9 L741.1 1013.8 L747.1 1008.7 L753.0 1003.6 L758.9 998.5 L764.7 993.3 L770.5 988.2 L776.1 983.1 L781.8 977.9 L787.3 972.7 L792.8 967.6 L798.2 962.4 L803.5 957.2 L808.7 952.1 L813.9 946.9 L819.0 941.7 L823.9 936.5 L828.8 931.3 L833.6 926.1 L838.4 920.9 L843.0 915.7 L847.5 910.4 L851.9 905.2 L856.2 900.0 L860.4 894.8 L864.5 889.6 L868.5 884.3 L872.4 879.1 L876.2 873.9 L879.9 868.7 L883.4 863.4 L886.8 858.2 L890.1 853.0 L893.3 847.8 L896.3 842.6 L899.2 837.3 L902.0 832.1 L904.7 826.9 L907.3 821.7 L909.8 816.5 L912.1 811.3 L914.4 806.1 L916.6 800.9 L918.6 795.6 L920.6 790.4 L922.5 785.2 L924.3 780.0 L926.1 774.8 L927.7 769.6 L929.3 764.4 L930.8 759.2 L932.3 754.0 L933.7 748.9 L935.0 743.7 L936.3 738.5 L937.6 733.3 L938.8 728.1 L939.9 722.9 L941.1 717.7 L942.2 712.5 L943.2 707.3 L944.2 702.2 L945.3 697.0 L946.3 691.8 L947.2 686.6 L948.2 681.4 L949.2 676.3 L950.1 671.1 L951.0 665.9 L951.9 660.7 L952.8 655.6 L953.7 650.4 L954.6 645.2 L955.5 640.1 L956.3 634.9 L957.1 629.7 L958.0 624.6 L958.8 619.4 L959.6 614.3 L960.4 609.1 L961.2 604.0 L962.0 598.8 L962.7 593.7 L963.5 588.5 L964.2 583.4 L965.0 578.2 L965.7 573.1 L966.4 567.9 L967.2 562.8 L967.9 557.7 L968.6 552.5 L969.3 547.4 L970.0 542.3 L970.6 537.2 L971.3 532.0 L972.0 526.9 L972.7 521.8 L973.3 516.7 L974.0 511.6 L974.6 506.5 L975.2 501.4 L975.9 496.2 L976.5 491.1 L977.1 486.0 L977.7 480.9 L978.4 475.8 L979.0 470.7 L979.6 465.6 L980.1 460.5 L980.7 455.4 L981.3 450.3 L981.9 445.2 L982.4 440.1 L983.0 435.0 L983.5 429.9 L984.1 424.8 L984.6 419.7 L985.2 414.6 L985.7 409.5 L986.2 404.4 L986.7 399.3 L987.2 394.2 L987.7 389.1 L988.2 384.0 L988.7 378.9 L989.2 373.8 L989.6 368.7 L990.1 363.7 L990.6 358.6 L991.0 353.6 L991.4 348.6 L991.9 343.6 L992.3 338.7 L992.7 333.9 L993.1 329.1 L993.5 324.3 L993.9 319.7 L994.3 315.1 L994.7 310.5 L995.0 306.1 L995.4 301.7 L995.7 297.5 L996.0 293.3 L996.4 289.3 L996.7 285.4 L997.0 281.6 L997.2 277.9 L997.5 274.3 L997.8 270.9 L998.0 267.7 L998.3 264.5 L998.5 261.6 L998.7 258.7 L998.9 256.1 L999.1 253.6 L999.3 251.3 L999.4 249.1 L999.6 247.1 L999.7 245.3 L999.9 243.6 L1000.0 242.0 L1000.1 240.6 L1000.2 239.3 L1000.3 238.1 L1000.4 237.0 L1000.4 236.0 L1000.5 235.1 L1000.6 234.4 L1000.6 233.7 L1000.7 233.1 L1000.7 232.6 L1000.7 232.1 L1000.8 231.7 L1000.8 231.4 L1000.8 231.2 L1000.8 231.0 L1000.8 230.8 L1000.8 230.7 L1000.8 230.6 L1000.8 230.5 L1000.9 230.5 L1000.9 230.5 L1000.9 230.5 L1000.9 230.5" fill="none" stroke="#008000" stroke-width="6.2" stroke-linecap="round" stroke-linejoin="round"/>
<path d="M300.8 1299.8H332.0 M316.4 1284.2V1315.4 M300.8 1284.2L332.0 1315.4 M300.8 1315.4L332.0 1284.2" stroke="#008000" stroke-width="2.5" stroke-linecap="round" fill="none"/>
<path d="M542.3 1154.6H573.5 M557.9 1139.0V1170.2 M542.3 1139.0L573.5 1170.2 M542.3 1170.2L573.5 1139.0" stroke="#008000" stroke-width="2.5" stroke-linecap="round" fill="none"/>
<path d="M746.4 1004.9H777.6 M762.0 989.3V1020.5 M746.4 989.3L777.6 1020.5 M746.4 1020.5L777.6 989.3" stroke="#008000" stroke-width="2.5" stroke-linecap="round" fill="none"/>
<path d="M896.7 847.5H927.9 M912.3 831.9V863.1 M896.7 831.9L927.9 863.1 M896.7 863.1L927.9 831.9" stroke="#008000" stroke-width="2.5" stroke-linecap="round" fill="none"/>
<path d="M932.8 691.6H964.0 M948.4 676.0V707.2 M932.8 676.0L964.0 707.2 M932.8 707.2L964.0 676.0" stroke="#008000" stroke-width="2.5" stroke-linecap="round" fill="none"/>
<path d="M956.0 536.8H987.2 M971.6 521.2V552.4 M956.0 521.2L987.2 552.4 M956.0 552.4L987.2 521.2" stroke="#008000" stroke-width="2.5" stroke-linecap="round" fill="none"/>
<path d="M973.6 384.2H1004.8 M989.2 368.6V399.8 M973.6 368.6L1004.8 399.8 M973.6 399.8L1004.8 368.6" stroke="#008000" stroke-width="2.5" stroke-linecap="round" fill="none"/>
<path d="M985.3 230.5H1016.5 M1000.9 214.9V246.1 M985.3 214.9L1016.5 246.1 M985.3 246.1L1016.5 214.9" stroke="#008000" stroke-width="2.5" stroke-linecap="round" fill="none"/>
</g>
<g id="axes" stroke="#000" fill="none" stroke-linecap="round">
<path d="M264.35 1467.70H2125.40M264.35 83.70V1467.70M264.27 1467.70v11.70M345.20 1467.70v23.00M426.12 1467.70v11.70M507.05 1467.70v23.00M587.97 1467.70v11.70M668.90 1467.70v23.00M749.82 1467.70v11.70M830.75 1467.70v23.00M911.67 1467.70v11.70M992.60 1467.70v23.00M1073.52 1467.70v11.70M1154.45 1467.70v23.00M1235.38 1467.70v11.70M1316.30 1467.70v23.00M1397.22 1467.70v11.70M1478.15 1467.70v23.00M1559.08 1467.70v11.70M1640.00 1467.70v23.00M1720.92 1467.70v11.70M1801.85 1467.70v23.00M1882.77 1467.70v11.70M1963.70 1467.70v23.00M2044.62 1467.70v11.70M2125.55 1467.70v23.00M264.35 1467.70h-23.00M264.35 1313.93h-23.00M264.35 1160.16h-23.00M264.35 1006.39h-23.00M264.35 852.62h-23.00M264.35 698.85h-23.00M264.35 545.08h-23.00M264.35 391.31h-23.00M264.35 237.54h-23.00M264.35 83.77h-23.00" stroke-width="4.7"/>
<path d="M264.35 83.70H2125.40V1467.70M264.27 83.70v11.70M345.20 83.70v23.00M426.12 83.70v11.70M507.05 83.70v23.00M587.97 83.70v11.70M668.90 83.70v23.00M749.82 83.70v11.70M830.75 83.70v23.00M911.67 83.70v11.70M992.60 83.70v23.00M1073.52 83.70v11.70M1154.45 83.70v23.00M1235.38 83.70v11.70M1316.30 83.70v23.00M1397.22 83.70v11.70M1478.15 83.70v23.00M1559.08 83.70v11.70M1640.00 83.70v23.00M1720.92 83.70v11.70M1801.85 83.70v23.00M1882.77 83.70v11.70M1963.70 83.70v23.00M2044.62 83.70v11.70M2125.40 1467.70h-23.00M2125.40 1313.93h-23.00M2125.40 1160.16h-23.00M2125.40 1006.39h-23.00M2125.40 852.62h-23.00M2125.40 698.85h-23.00M2125.40 545.08h-23.00M2125.40 391.31h-23.00M2125.40 237.54h-23.00M2125.40 83.77h-23.00" stroke-width="6.5" stroke-linejoin="round"/>
</g>
<g id="xticks" font-size="81.5" text-anchor="middle">
<text x="345.2" y="1568.8">30</text>
<text x="507.0" y="1568.8">40</text>
<text x="668.9" y="1568.8">50</text>
<text x="830.8" y="1568.8">60</text>
<text x="992.6" y="1568.8">70</text>
<text x="1154.4" y="1568.8">80</text>
<text x="1316.3" y="1568.8">90</text>
<text x="1479.1" y="1568.8">100</text>
<text x="1641.0" y="1568.8">110</text>
<text x="1802.8" y="1568.8">120</text>
<text x="1964.7" y="1568.8">130</text>
<text x="2126.5" y="1568.8">140</text>
</g>
<g id="yticks" font-size="81.5" text-anchor="end">
<text x="225.6" y="1491.3">0</text>
<text x="225.6" y="1337.5">10</text>
<text x="225.6" y="1183.8">20</text>
<text x="225.6" y="1030.0">30</text>
<text x="225.6" y="876.2">40</text>
<text x="225.6" y="722.5">50</text>
<text x="225.6" y="568.7">60</text>
<text x="225.6" y="414.9">70</text>
<text x="225.6" y="261.1">80</text>
<text x="225.6" y="107.4">90</text>
</g>
<text id="ytitle" font-size="80" text-anchor="middle" transform="translate(94 829) rotate(-90)"><tspan font-style="italic">Q</tspan> (W)</text>
<text id="xtitle" font-size="80" x="1063.9" y="1684.6"><tspan font-style="italic">T</tspan><tspan font-size="48" dy="28.2" dx="-1.1">eva</tspan><tspan dy="-28.2" dx="-1.6"> (°</tspan><tspan dx="-3.8">C)</tspan></text>
<g id="legend">
<rect x="294.1" y="129.9" width="372.7" height="839.5" fill="#fff" stroke="#000" stroke-width="1.6"/>
<text font-size="69" x="477.8" y="227.4">Δ<tspan font-style="italic" dx="-2">p</tspan><tspan font-size="42" dy="24.4" dx="0 3.6">LV</tspan></text>
<path d="M310.2 311.2H448.7" stroke="#515151" stroke-width="6.2" stroke-linecap="round" fill="none"/>
<rect x="364.9" y="297.1" width="29.0" height="29.0" fill="#515151"/>
<text font-size="69" x="465.2" y="333.0">0 kPa</text>
<path d="M310.2 395.9H448.7" stroke="#F14040" stroke-width="6.2" stroke-linecap="round" fill="none"/>
<circle cx="379.4" cy="396.3" r="16.0" fill="#F14040"/>
<text font-size="69" x="465.2" y="417.7">2 kPa</text>
<path d="M310.2 480.5H448.7" stroke="#00FF00" stroke-width="6.2" stroke-linecap="round" fill="none"/>
<polygon points="379.4,459.2 398.7,492.9 360.1,492.9" fill="#00FF00"/>
<text font-size="69" x="465.2" y="502.3">4 kPa</text>
<path d="M310.2 565.2H448.7" stroke="#0000FF" stroke-width="6.2" stroke-linecap="round" fill="none"/>
<polygon points="379.4,545.4 399.6,565.6 379.4,585.8 359.2,565.6" fill="#0000FF"/>
<text font-size="69" x="465.2" y="587.0">6 kPa</text>
<path d="M310.2 649.8H448.7" stroke="#FF00FF" stroke-width="6.2" stroke-linecap="round" fill="none"/>
<polygon points="379.4,632.2 383.4,644.7 396.5,644.7 385.9,652.4 390.0,664.8 379.4,657.1 368.8,664.8 372.9,652.4 362.3,644.7 375.4,644.7" fill="#FF00FF" stroke="#FF00FF" stroke-width="1.6" stroke-linejoin="round"/>
<text font-size="69" x="465.2" y="671.6">8 kPa</text>
<path d="M310.2 734.5H448.7" stroke="#000080" stroke-width="6.2" stroke-linecap="round" fill="none"/>
<polygon points="379.4,716.1 397.3,729.1 390.5,750.1 368.3,750.1 361.5,729.1" fill="#000080"/>
<text font-size="69" x="465.2" y="756.3">10 kPa</text>
<path d="M310.2 819.2H448.7" stroke="#860000" stroke-width="6.2" stroke-linecap="round" fill="none"/>
<circle cx="379.4" cy="819.9" r="16.1" fill="#860000"/><circle cx="374.6" cy="815.2" r="8.3" fill="url(#hl)"/>
<text font-size="69" x="465.2" y="841.0">16 kPa</text>
<path d="M310.2 903.8H448.7" stroke="#008000" stroke-width="6.2" stroke-linecap="round" fill="none"/>
<path d="M363.8 904.2H395.0 M379.4 888.6V919.8 M363.8 888.6L395.0 919.8 M363.8 919.8L395.0 888.6" stroke="#008000" stroke-width="2.5" stroke-linecap="round" fill="none"/>
<text font-size="69" x="465.2" y="925.6">22 kPa</text>
</g>
</svg></body></html>
